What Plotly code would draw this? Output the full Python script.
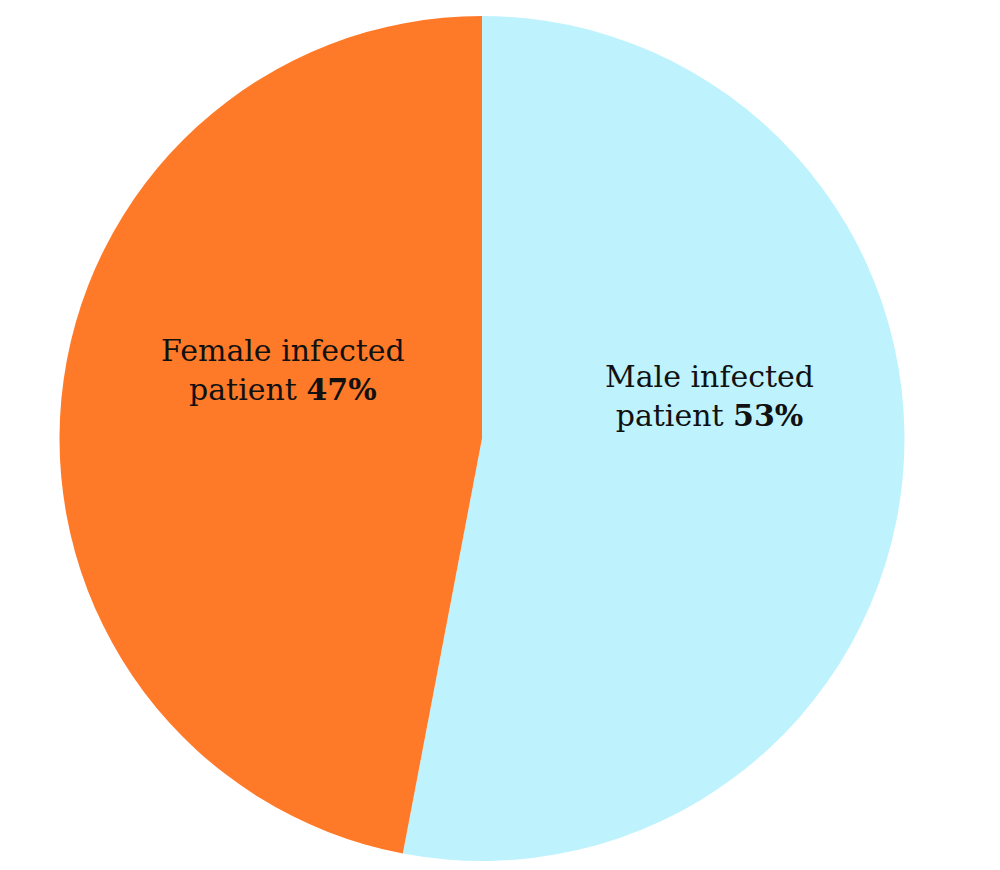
import plotly.graph_objects as go

labels = ["Male infected patient", "Female infected patient"]
values = [53, 47]
colors = ["#BEF3FE", "#FF7A28"]
label_lines = [("Male infected", "patient"), ("Female infected", "patient")]
label_pos = [(0.701, 1 - 388 / 870), (0.275, 1 - 362 / 870)]

fig = go.Figure(go.Pie(
    labels=labels,
    values=values,
    sort=False,
    direction="clockwise",
    rotation=0,
    marker=dict(colors=colors, line=dict(width=0)),
    textinfo="none",
    hoverinfo="label+percent",
    domain=dict(x=[0.051, 0.897], y=[(870 - 853) / 870, (870 - 8) / 870]),
    showlegend=False,
))

for (l1, l2), v, (px, py) in zip(label_lines, values, label_pos):
    fig.add_annotation(
        x=px, y=py, xref="paper", yref="paper",
        xanchor="center", yanchor="middle",
        text=f"{l1}<br>{l2} <b>{v}%</b>",
        showarrow=False,
        font=dict(family="DejaVu Serif", size=30, color="#111111"),
        align="center",
    )

fig.update_layout(
    width=1000, height=870,
    margin=dict(l=0, r=0, t=0, b=0),
    paper_bgcolor="white",
    plot_bgcolor="white",
)

fig.write_html("out.html")
